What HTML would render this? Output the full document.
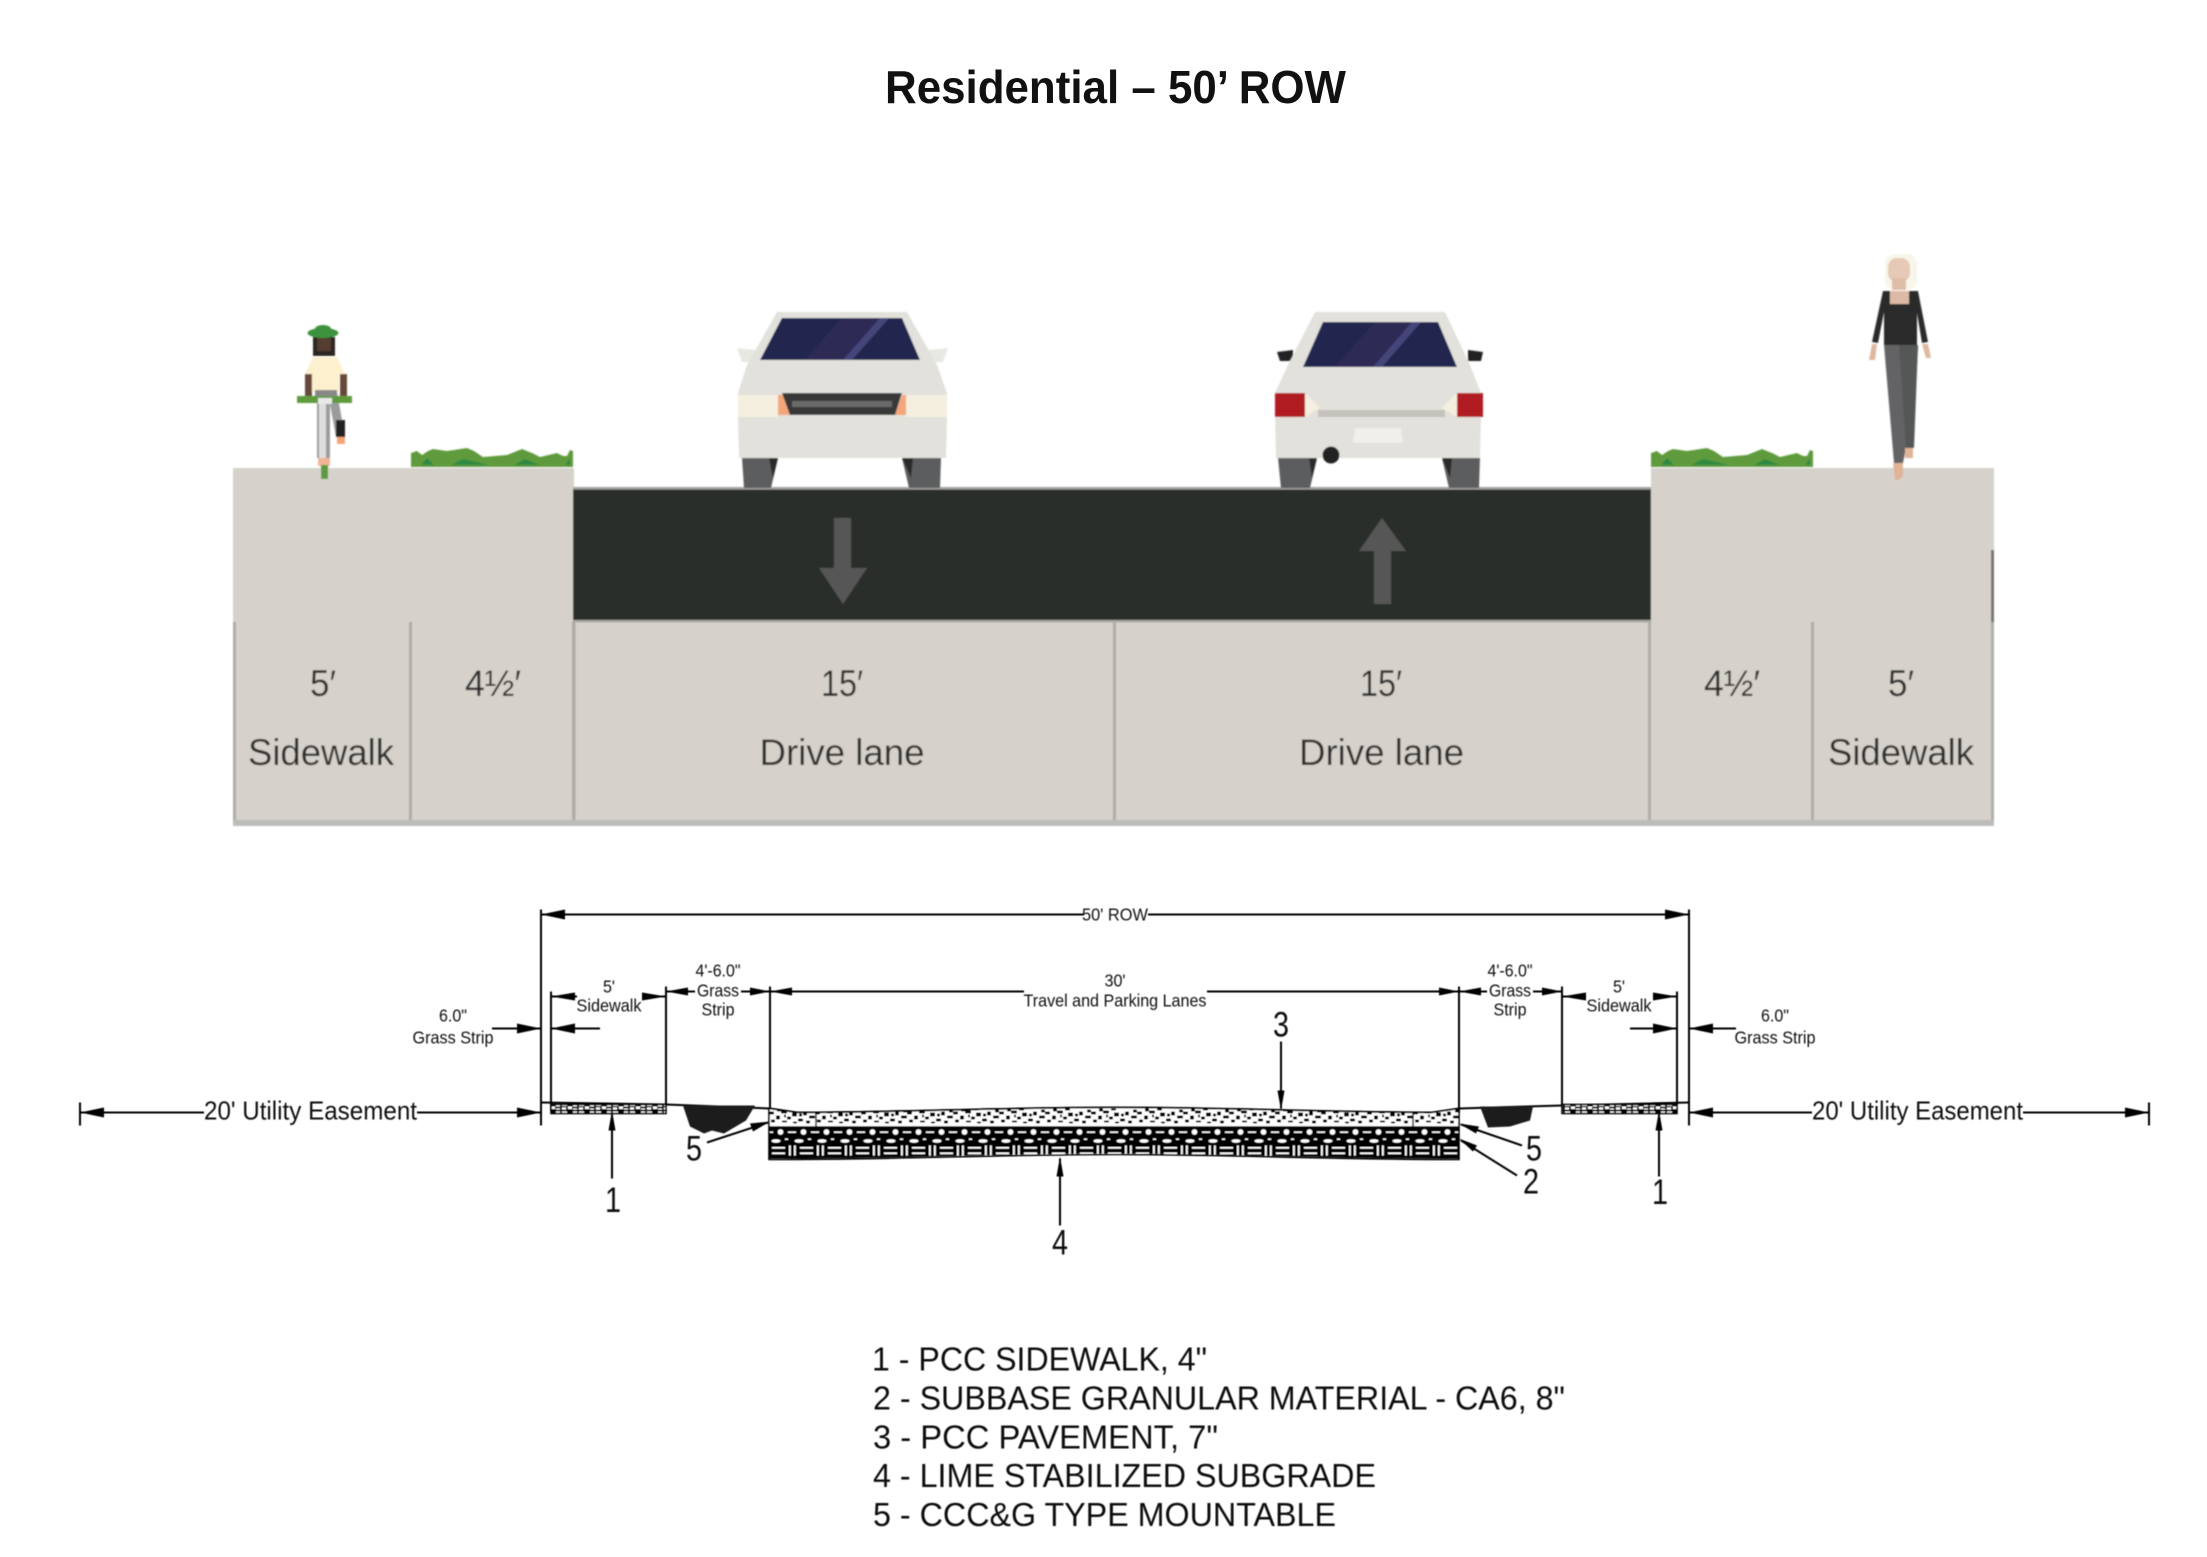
<!DOCTYPE html>
<html><head><meta charset="utf-8"><title>Residential – 50’ ROW</title>
<style>html,body{margin:0;padding:0;background:#fff}svg{display:block}text{font-family:"Liberation Sans",Arial,sans-serif}</style></head>
<body>
<svg xmlns="http://www.w3.org/2000/svg" width="2207" height="1557" viewBox="0 0 2207 1557">
<defs>
<filter id="b" x="-2%" y="-2%" width="104%" height="104%"><feGaussianBlur stdDeviation="0.8"/></filter>
<filter id="s" x="-2%" y="-2%" width="104%" height="104%"><feGaussianBlur stdDeviation="0.45"/></filter>
<pattern id="spk" width="46" height="18" patternUnits="userSpaceOnUse" x="769" y="1110">
<rect width="46" height="18" fill="#fff"/>
<g fill="#000"><rect x="0" y="3" width="5" height="3"/><rect x="7" y="7" width="4" height="4"/><rect x="12" y="2" width="6" height="3"/><rect x="18" y="8" width="4" height="3"/><rect x="23" y="4" width="5" height="4"/><rect x="29" y="10" width="5" height="3"/><rect x="34" y="3" width="4" height="4"/><rect x="40" y="7" width="6" height="3"/><rect x="2" y="11" width="4" height="3"/><rect x="13" y="12" width="5" height="2"/><rect x="24" y="13" width="4" height="2"/><rect x="37" y="12" width="4" height="3"/><rect x="8" y="0" width="4" height="3"/><rect x="20" y="0" width="5" height="2"/><rect x="30" y="5" width="3" height="3"/><rect x="42" y="1" width="4" height="3"/><rect x="15" y="6" width="2" height="3"/></g></pattern>
<pattern id="grv" width="23" height="17" patternUnits="userSpaceOnUse" x="769" y="1128">
<rect width="23" height="17" fill="#000"/>
<circle cx="11.5" cy="5.5" r="2.8" fill="#fff"/><rect x="0" y="5" width="4" height="1.4" fill="#fff"/><rect x="19" y="5" width="4" height="1.4" fill="#fff"/>
<ellipse cx="7" cy="14.5" rx="4.5" ry="1.7" fill="#fff"/><rect x="16" y="12" width="3" height="1.4" fill="#fff"/></pattern>
<pattern id="brk" width="28" height="15" patternUnits="userSpaceOnUse" x="771" y="1145">
<rect width="28" height="15" fill="#000"/>
<rect x="1" y="3.5" width="13" height="1.7" fill="#fff"/><rect x="1" y="9" width="13" height="1.7" fill="#fff"/><rect x="18" y="2" width="1.8" height="10" fill="#fff"/><rect x="23" y="2" width="1.8" height="10" fill="#fff"/></pattern>
<pattern id="sw" width="17" height="8" patternUnits="userSpaceOnUse">
<rect width="17" height="8" fill="#000"/><g fill="#fff"><rect x="1" y="1" width="5" height="2.5"/><rect x="7" y="4" width="4" height="2.5"/><rect x="12" y="1" width="4" height="3"/><rect x="1" y="5" width="4" height="2"/><rect x="12" y="6" width="4" height="1"/></g></pattern>
<clipPath id="rc"><path d="M769,1110 L797,1114 C900,1114 1000,1109 1115,1109 C1230,1109 1330,1114 1432,1114 L1459,1110 L1459,1160 C1330,1160 1230,1155 1115,1155 C1000,1155 900,1160 769,1160 Z"/></clipPath>
</defs>
<rect width="2207" height="1557" fill="#fff"/>

<text x="885" y="103" font-size="46" font-weight="700" fill="#111" textLength="461" lengthAdjust="spacingAndGlyphs">Residential – 50’ ROW</text>

<g filter="url(#b)">
<rect x="233" y="468" width="341" height="354" fill="#d6d2cb"/>
<rect x="574" y="622" width="1077" height="200" fill="#d6d2cb"/>
<rect x="1651" y="468" width="343" height="354" fill="#d6d2cb"/>
<rect x="573" y="488" width="1078" height="134" fill="#2b2d2a"/>
<rect x="573" y="487" width="1078" height="2.5" fill="#a2a2a0"/>
<rect x="573" y="620" width="1078" height="2.5" fill="#aaa8a2"/>
<rect x="233" y="820" width="1761" height="6" fill="#bcbcba"/>
<g fill="#b0aca5"><rect x="233" y="622" width="3" height="198"/><rect x="409" y="622" width="3" height="198"/><rect x="572" y="622" width="3.5" height="198"/><rect x="1113" y="622" width="3" height="198"/><rect x="1648" y="622" width="3" height="198"/><rect x="1811" y="622" width="3" height="198"/><rect x="1991" y="622" width="3" height="198"/></g>
<rect x="1991" y="550" width="3" height="72" fill="#77736c"/>
<path d="M834,518 H851 V568 H867 L843,604 L819,568 H834 Z" fill="#555654"/>
<path d="M1382,518 L1406,551 H1391 V604 H1374 V551 H1359 Z" fill="#555654"/>
<path d="M411,467 V453 L417,451 L422,455 L428,451 L433,449 L447,451 L467,448 L474,451 L483,457 L495,456 L507,455 L522,449 L532,453 L540,457 L557,453 L563,456 L567,456 L570,450 L573,451 V467 Z" fill="#5f9b3e"/>
<path d="M421,465 L427,458 L434,465 Z M451,465 L463,459 L490,465 Z M514,465 L525,459 L540,465 Z M565,465 L570,458 V465 Z" fill="#2f8a42"/>
<path d="M1651,467 V453 L1657,451 L1662,455 L1668,451 L1673,449 L1687,451 L1707,448 L1714,451 L1723,457 L1735,456 L1747,455 L1762,449 L1772,453 L1780,457 L1797,453 L1803,456 L1807,456 L1810,450 L1813,451 V467 Z" fill="#5f9b3e"/>
<path d="M1661,465 L1667,458 L1674,465 Z M1691,465 L1703,459 L1730,465 Z M1754,465 L1765,459 L1780,465 Z M1805,465 L1810,458 V465 Z" fill="#2f8a42"/>
<!-- cyclist -->
<path d="M315,392 H337 L345,437 H336 L330,404 V458 H317 V400 Z" fill="#9a9b9b"/>
<rect x="319" y="403" width="7" height="55" fill="#dedede"/>
<rect x="336" y="420" width="9" height="17" fill="#222"/>
<rect x="337" y="437" width="8" height="7" fill="#f4a47a"/>
<rect x="318" y="458" width="12" height="8" fill="#f0b595"/>
<rect x="321" y="465" width="7" height="14" fill="#5c9a3e"/>
<path d="M313,337 H335 V356 H313 Z" fill="#2a2522"/><rect x="317" y="338" width="14" height="13" fill="#573e30"/>
<ellipse cx="323" cy="333" rx="15.5" ry="5" fill="#3e923d"/><ellipse cx="323" cy="329" rx="8" ry="4" fill="#3e923d"/>
<path d="M313,357 H337 L345,374 H339 V392 H312 V374 H305 Z" fill="#fdf0cf"/>
<rect x="305" y="374" width="7" height="24" fill="#66493a"/><rect x="340" y="374" width="7" height="24" fill="#66493a"/>
<rect x="315" y="390" width="22" height="6" fill="#888"/>
<rect x="297" y="396" width="55" height="7" fill="#5f9b3e"/><rect x="318" y="398" width="14" height="6" fill="#e9e9e9"/>
<!-- pedestrian -->
<rect x="1885" y="254" width="32" height="36" rx="10" fill="#f8f6ea"/>
<rect x="1888" y="258" width="22" height="24" rx="9" fill="#e6c9b6"/><rect x="1892" y="278" width="14" height="12" fill="#dfbea9"/>
<path d="M1883,291 H1893 L1893,303 H1906 L1906,291 H1918 L1928,342 L1922,343 L1917,313 V345 H1884 V312 L1878,343 L1872,342 Z" fill="#2a2a2a"/>
<rect x="1890" y="291" width="19" height="13" fill="#dcbaa5"/>
<path d="M1872,344 L1877,344 L1875,360 L1869,360 Z M1922,344 L1928,344 L1931,358 L1926,358 Z" fill="#dfb8a0"/>
<path d="M1884,345 H1918 L1913,448 H1906 L1903,463 H1894 Z" fill="#636465"/>
<path d="M1899,345 L1906,448 L1914,448 L1918,345 Z" fill="#555657"/>
<path d="M1893,463 H1903 V476 L1899,480 H1895 Z" fill="#e0b498"/><rect x="1905" y="448" width="8" height="10" fill="#e0b498"/>
<!-- front car -->
<path d="M737,348 L756,350 L756,363 L742,362 Z M948,348 L928,350 L928,363 L943,362 Z" fill="#e8e8e3"/>
<path d="M742,458 L744,488 H771 L778,458 Z M902,458 L909,488 H940 L941,458 Z" fill="#5c5d5e"/>
<path d="M769,458 L778,458 L773,478 Z M902,458 L913,458 L911,478 Z" fill="#2a2a2a"/>
<path d="M777,312 H907 L937,365 L947,393 V417 L946,458 H739 L738,417 V393 L747,365 Z" fill="#e2e1dc"/>
<path d="M782,318 H902 L920,360 H760 Z" fill="#23284f"/>
<path d="M805,360 L842,318 H880 L843,360 Z" fill="#2d2b56"/>
<path d="M843,360 L880,318 H889 L852,360 Z" fill="#45447a"/>
<rect x="738" y="395" width="40" height="22" fill="#f5efe0"/><rect x="905" y="395" width="42" height="22" fill="#f5efe0"/>
<path d="M778,395 H783 L790,415 H778 Z M906,395 H902 L895,415 H906 Z" fill="#f4a67a"/>
<path d="M782,393 H902 L895,415 H790 Z" fill="#383938"/>
<rect x="792" y="401" width="100" height="6" fill="#6a6b6b"/>
<!-- rear car -->
<path d="M1277,352 L1293,350 V361 L1280,361 Z M1483,352 L1468,350 V361 L1481,361 Z" fill="#222"/>
<path d="M1278,458 L1281,488 H1310 L1317,458 Z M1442,458 L1449,488 H1479 L1480,458 Z" fill="#5c5d5e"/>
<path d="M1309,458 L1317,458 L1312,478 Z M1442,458 L1452,458 L1450,478 Z" fill="#2a2a2a"/>
<path d="M1315,312 H1445 L1470,365 L1481,393 V417 L1480,458 H1276 L1275,417 V393 L1288,365 Z" fill="#e2e1dc"/>
<path d="M1323,322 H1438 L1457,367 H1303 Z" fill="#23284f"/>
<path d="M1335,367 L1375,322 H1412 L1373,367 Z" fill="#2d2b56"/>
<path d="M1373,367 L1412,322 H1421 L1382,367 Z" fill="#45447a"/>
<rect x="1275" y="393" width="30" height="24" fill="#b11e24"/><rect x="1457" y="393" width="26" height="24" fill="#b11e24"/>
<path d="M1305,393 L1320,408 L1305,417 Z M1457,393 L1442,408 L1457,417 Z" fill="#f5efe0"/>
<rect x="1318" y="410" width="127" height="7" fill="#c5c2bc"/>
<path d="M1355,428 H1401 L1403,443 H1353 Z" fill="#f0efea"/>
<circle cx="1331" cy="455" r="8.5" fill="#222"/>
<g font-size="37" fill="#2c2c2a" text-anchor="middle">
<text x="323" y="696" textLength="26" lengthAdjust="spacingAndGlyphs">5′</text><text x="493" y="696" textLength="56" lengthAdjust="spacingAndGlyphs">4½′</text><text x="842" y="696" textLength="42" lengthAdjust="spacingAndGlyphs">15′</text><text x="1381" y="696" textLength="42" lengthAdjust="spacingAndGlyphs">15′</text><text x="1732" y="696" textLength="56" lengthAdjust="spacingAndGlyphs">4½′</text><text x="1901" y="696" textLength="26" lengthAdjust="spacingAndGlyphs">5′</text>
<text x="321" y="765" textLength="146" lengthAdjust="spacingAndGlyphs">Sidewalk</text>
<text x="842" y="765" textLength="165" lengthAdjust="spacingAndGlyphs">Drive lane</text>
<text x="1381.5" y="765" textLength="165" lengthAdjust="spacingAndGlyphs">Drive lane</text>
<text x="1901" y="765" textLength="146" lengthAdjust="spacingAndGlyphs">Sidewalk</text>
</g>
</g>

<g filter="url(#s)" transform="translate(0,-1.5)">
<g stroke="#000" stroke-width="2" fill="none">
<path d="M541,916 H1084 M1148,916 H1689"/>
<path d="M541,911 V1127 M1689,911 V1127"/>
<path d="M80,1104 V1127 M2149,1104 V1127"/>
<path d="M80,1114 H204 M417,1114 H541 M1689,1114 H1812 M2023,1114 H2149"/>
<path d="M551,993 V1112 M1677,993 V1106 M666,988 V1106 M1562,988 V1106 M770,988 V1115 M1459,988 V1115"/>
<path d="M551,998 H577 M642,998 H666 M1562,998 H1586 M1653,998 H1677"/>
<path d="M666,993 H695 M741,993 H770 M1459,993 H1487 M1533,993 H1562"/>
<path d="M770,993 H1024 M1207,993 H1459"/>
<path d="M492,1030 H541 M551,1030 H600 M1630,1030 H1677 M1689,1030 H1736"/>
<path d="M541,1104 L666,1106 L770,1110 L797,1114 C900,1114 1000,1109 1115,1109 C1230,1109 1330,1114 1432,1114 L1459,1110 L1562,1107 L1689,1104"/>
<path d="M612,1116 V1180 M1659,1116 V1178 M1281,1043 V1110 M1060,1160 V1227"/>
<path d="M707,1144 L768,1124 M1522,1147 L1461,1126 M1517,1177 L1461,1142"/>
</g>
<g fill="#000">
<path d="M541,916 l24,-5 v10 z M1689,916 l-24,-5 v10 z"/>
<path d="M80,1114 l24,-5 v10 z M541,1114 l-24,-5 v10 z M1689,1114 l24,-5 v10 z M2149,1114 l-24,-5 v10 z"/>
<path d="M551,998 l24,-4 v8 z M666,998 l-24,-4 v8 z M1562,998 l24,-4 v8 z M1677,998 l-24,-4 v8 z"/>
<path d="M666,993 l22,-4 v8 z M770,993 l-20,-4 v8 z M1459,993 l22,-4 v8 z M1562,993 l-20,-4 v8 z"/>
<path d="M770,993 l22,-4 v8 z M1459,993 l-20,-4 v8 z"/>
<path d="M541,1030 l-24,-5 v10 z M551,1030 l24,-5 v10 z M1677,1030 l-24,-5 v10 z M1689,1030 l24,-5 v10 z"/>
<path d="M612,1112 l-3.5,20 h7 z M1659,1112 l-3.5,20 h7 z M1281,1112 l-3.5,-20 h7 z M1060,1158 l-3.5,20 h7 z"/>
<path d="M770,1123 l-20,2 l3,8 z M1459,1125 l20,3 l-3,7 z M1459,1140 l18,7 l-4,6 z"/>
</g>
<rect x="551" y="1106" width="115" height="9" fill="url(#sw)" stroke="#000" stroke-width="1.6"/>
<rect x="1562" y="1106" width="115" height="9" fill="url(#sw)" stroke="#000" stroke-width="1.6"/>
<path d="M683,1107 H755 L746,1122 L724,1135 L712,1132 L704,1135 L690,1128 Z" fill="#1c1c1c"/>
<path d="M1480,1108 H1533 L1530,1122 L1510,1128 L1488,1129 Z" fill="#1c1c1c"/>
<g clip-path="url(#rc)">
<rect x="769" y="1105" width="690" height="23" fill="url(#spk)"/>
<rect x="769" y="1128" width="690" height="17" fill="url(#grv)"/>
<rect x="769" y="1145" width="690" height="16" fill="url(#brk)"/>
</g>
<path d="M769,1110 L797,1114 C900,1114 1000,1109 1115,1109 C1230,1109 1330,1114 1432,1114 L1459,1110 V1161 C1330,1161 1230,1156 1115,1156 C1000,1156 900,1161 769,1161 Z" fill="none" stroke="#000" stroke-width="1.6"/>
<path d="M816,1113 V1128 M1413,1113 V1128 M769,1128.5 H1459" stroke="#000" stroke-width="1.4" fill="none"/>
<g font-size="17.5" fill="#111" text-anchor="middle">
<text x="1115" y="922" textLength="66" lengthAdjust="spacingAndGlyphs">50' ROW</text>
<text x="1115" y="988" textLength="21" lengthAdjust="spacingAndGlyphs">30'</text>
<text x="1115" y="1008" textLength="183" lengthAdjust="spacingAndGlyphs">Travel and Parking Lanes</text>
<text x="718" y="978" textLength="45" lengthAdjust="spacingAndGlyphs">4'-6.0"</text><text x="718" y="998" textLength="42" lengthAdjust="spacingAndGlyphs">Grass</text><text x="718" y="1017" textLength="33" lengthAdjust="spacingAndGlyphs">Strip</text>
<text x="1510" y="978" textLength="45" lengthAdjust="spacingAndGlyphs">4'-6.0"</text><text x="1510" y="998" textLength="42" lengthAdjust="spacingAndGlyphs">Grass</text><text x="1510" y="1017" textLength="33" lengthAdjust="spacingAndGlyphs">Strip</text>
<text x="609" y="994" textLength="12" lengthAdjust="spacingAndGlyphs">5'</text><text x="609" y="1013" textLength="65" lengthAdjust="spacingAndGlyphs">Sidewalk</text>
<text x="1619" y="994" textLength="12" lengthAdjust="spacingAndGlyphs">5'</text><text x="1619" y="1013" textLength="65" lengthAdjust="spacingAndGlyphs">Sidewalk</text>
<text x="453" y="1023" textLength="28" lengthAdjust="spacingAndGlyphs">6.0"</text><text x="453" y="1045" textLength="81" lengthAdjust="spacingAndGlyphs">Grass Strip</text>
<text x="1775" y="1023" textLength="28" lengthAdjust="spacingAndGlyphs">6.0"</text><text x="1775" y="1045" textLength="81" lengthAdjust="spacingAndGlyphs">Grass Strip</text>
</g>
<g font-size="26" fill="#111">
<text x="204" y="1121" textLength="213" lengthAdjust="spacingAndGlyphs">20' Utility Easement</text>
<text x="1812" y="1121" textLength="211" lengthAdjust="spacingAndGlyphs">20' Utility Easement</text>
</g>
<g font-size="35" fill="#111" text-anchor="middle">
<text x="694" y="1162" textLength="16" lengthAdjust="spacingAndGlyphs">5</text><text x="613" y="1213.5" textLength="16" lengthAdjust="spacingAndGlyphs">1</text><text x="1660" y="1205.5" textLength="16" lengthAdjust="spacingAndGlyphs">1</text><text x="1534" y="1162" textLength="16" lengthAdjust="spacingAndGlyphs">5</text><text x="1531" y="1195" textLength="16" lengthAdjust="spacingAndGlyphs">2</text><text x="1281" y="1038" textLength="16" lengthAdjust="spacingAndGlyphs">3</text><text x="1060" y="1256" textLength="16" lengthAdjust="spacingAndGlyphs">4</text>
</g>
<g font-size="33" fill="#111">
<text x="872" y="1372" textLength="335" lengthAdjust="spacingAndGlyphs">1 - PCC SIDEWALK, 4"</text>
<text x="873" y="1411" textLength="692" lengthAdjust="spacingAndGlyphs">2 - SUBBASE GRANULAR MATERIAL - CA6, 8"</text>
<text x="873" y="1450" textLength="345" lengthAdjust="spacingAndGlyphs">3 - PCC PAVEMENT, 7"</text>
<text x="873" y="1488.5" textLength="503" lengthAdjust="spacingAndGlyphs">4 - LIME STABILIZED SUBGRADE</text>
<text x="873" y="1527.5" textLength="463" lengthAdjust="spacingAndGlyphs">5 - CCC&amp;G TYPE MOUNTABLE</text>
</g>
</g>
</svg>
</body></html>
